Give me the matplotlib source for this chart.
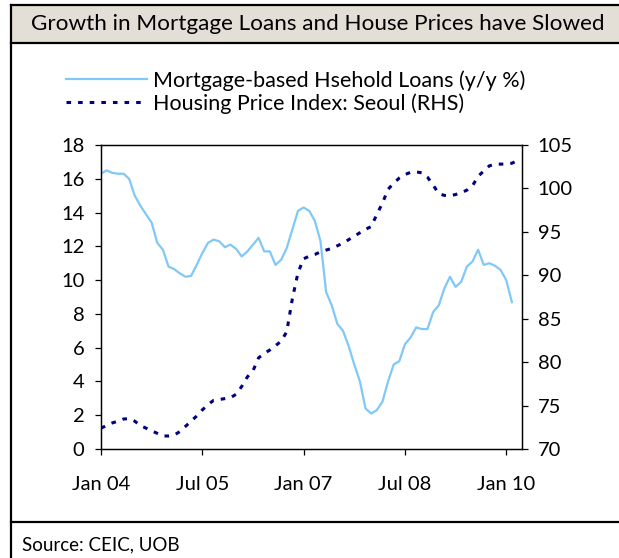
import numpy as np
import matplotlib
matplotlib.use("Agg")
import matplotlib.pyplot as plt
from matplotlib.lines import Line2D

plt.rcParams['font.family'] = ['Lato', 'DejaVu Sans']

# monthly data, Jan 2004 onwards
loans = [16.3, 16.5, 16.35, 16.3, 16.3, 16.0, 15.0, 14.4, 13.9, 13.4,
         12.2, 11.8, 10.8, 10.65, 10.4, 10.2, 10.25, 10.9, 11.6, 12.2,
         12.4, 12.3, 11.95, 12.1, 11.85, 11.4, 11.7, 12.1, 12.5, 11.7,
         11.7, 10.9, 11.2, 11.9, 13.0, 14.1, 14.3, 14.1, 13.5, 12.3,
         9.3, 8.5, 7.4, 7.0, 6.1, 5.0, 4.0, 2.4, 2.1, 2.3,
         2.8, 4.0, 5.0, 5.2, 6.2, 6.6, 7.2, 7.1, 7.1, 8.1,
         8.5, 9.5, 10.2, 9.6, 9.9, 10.8, 11.1, 11.8, 10.9, 11.0,
         10.85, 10.6, 10.0, 8.7]
seoul_hpi = [72.4, 72.7, 73.0, 73.2, 73.45, 73.5, 73.2, 72.7, 72.4, 72.1,
             71.8, 71.5, 71.5, 71.6, 72.0, 72.6, 73.2, 73.8, 74.5, 75.1,
             75.6, 75.7, 75.8, 75.9, 76.3, 77.2, 78.3, 79.0, 80.5, 81.0,
             81.4, 81.9, 82.4, 83.5, 87.3, 90.3, 91.9, 92.2, 92.4, 92.7,
             92.9, 93.1, 93.4, 93.7, 94.1, 94.5, 94.9, 95.3, 95.6, 97.0,
             98.3, 99.9, 100.6, 101.2, 101.6, 101.85, 101.9, 101.8, 101.3, 100.4,
             99.4, 99.2, 99.15, 99.3, 99.5, 99.8, 100.3, 101.4, 102.0, 102.6,
             102.8, 102.8, 102.8, 102.9, 103.2]
tick_pos = [0, 18, 36, 54, 72]
tick_labels = ["Jan 04", "Jul 05", "Jan 07", "Jul 08", "Jan 10"]

W, H = 619, 558
fig = plt.figure(figsize=(W / 100, H / 100), dpi=100)

def fx(px):
    return px / W

def fy(py):
    return 1 - py / H

# outer frame and title band
fig.patches.append(plt.Rectangle((fx(11), fy(43)), 1 - fx(11), fy(5) - fy(43),
                                 transform=fig.transFigure, facecolor='#e4dfd6',
                                 edgecolor='none', zorder=0))
for (x0, y0, x1, y1) in [(11, 5, 619, 5), (11, 43, 619, 43), (11, 522, 619, 522), (11, 5, 11, 558)]:
    fig.add_artist(Line2D([fx(x0), fx(x1)], [fy(y0), fy(y1)], transform=fig.transFigure,
                          color='black', lw=1.6))
fig.text(fx(318), fy(24), "Growth in Mortgage Loans and House Prices have Slowed",
         ha='center', va='center', fontsize=16.2)
fig.text(fx(22), fy(545), "Source: CEIC, UOB", ha='left', va='center', fontsize=13.5)

ax = fig.add_axes([fx(101), fy(449), fx(522) - fx(101), fy(145) - fy(449)])
ax2 = ax.twinx()

x1 = np.arange(len(loans))
x2 = np.arange(len(seoul_hpi))
l1, = ax.plot(x1, loans, color='#80c8f8', lw=1.6)
l2, = ax2.plot(x2, seoul_hpi, color='#000080', lw=2.2, linestyle=(0, (1.5, 2.3)))

ax.set_xlim(0, 74.8)
ax.set_ylim(0, 18)
ax.set_yticks(range(0, 19, 2))
ax2.set_ylim(70, 105)
ax2.set_yticks(range(70, 106, 5))
ax.set_xticks(tick_pos)
ax.set_xticklabels(tick_labels)

for a in (ax, ax2):
    for s in a.spines.values():
        s.set_linewidth(0.9)
ax.tick_params(axis='x', direction='out', length=4.3, width=0.9, pad=15, labelsize=14.5)
ax.tick_params(axis='y', direction='out', length=4.3, width=0.9, pad=7.5, labelsize=14.5)
ax2.tick_params(axis='y', direction='out', length=4.3, width=0.9, pad=7, labelsize=14.5)

fig.legend([l1, l2], ["Mortgage-based Hsehold Loans (y/y %)", "Housing Price Index: Seoul (RHS)"],
           loc='upper left', bbox_to_anchor=(fx(66), fy(70)), frameon=False,
           fontsize=15.5, handlelength=3.75, handletextpad=0.3, labelspacing=0.12,
           borderpad=0, borderaxespad=0)

fig.savefig("out.png", dpi=100)
